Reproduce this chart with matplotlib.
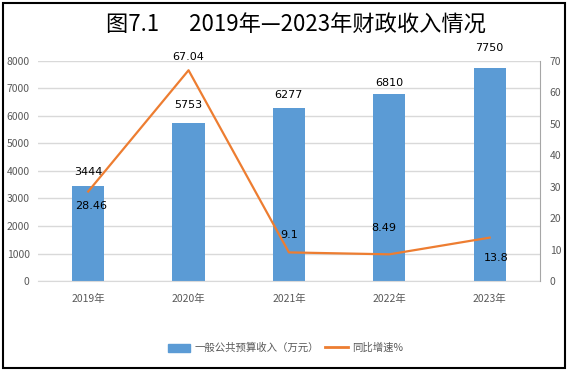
import matplotlib
matplotlib.use('Agg')
import matplotlib.pyplot as plt
from matplotlib.patches import Rectangle
from matplotlib.lines import Line2D
from matplotlib.patches import Patch

plt.rcParams['font.family'] = ['Noto Sans CJK SC', 'DejaVu Sans']

# --- data ---
years = ['2019年', '2020年', '2021年', '2022年', '2023年']
revenue = [3444, 5753, 6277, 6810, 7750]
growth = [28.46, 67.04, 9.1, 8.49, 13.8]
growth_labels = ['28.46', '67.04', '9.1', '8.49', '13.8']

left_ticks = [0, 1000, 2000, 3000, 4000, 5000, 6000, 7000, 8000]
right_ticks = [0, 10, 20, 30, 40, 50, 60, 70]

# label offsets in points (dx, dy)
bar_off = [(0, 7), (0, 9), (0, 6), (0, 4), (0, 11)]
line_off = [(2, -7), (0, 6), (0, 9), (-4, 15), (5, -11)]

BLUE = '#5b9bd5'
ORANGE = '#ed7d31'
GRID = '#d9d9d9'
TICK = '#595959'

fig = plt.figure(figsize=(5.71, 3.73), dpi=100)
fig.patch.set_facecolor('white')
ax = fig.add_axes([0.0665, 0.2466, 0.879, 0.59])
ax2 = ax.twinx()

x = range(len(years))
ax.bar(x, revenue, width=0.32, color=BLUE, zorder=2)
ax.set_xlim(-0.5, 4.5)
ax.set_ylim(0, 8000)
ax.set_yticks(left_ticks)
ax.set_xticks(list(x))
ax.set_xticklabels(years, fontsize=7.5, color=TICK)
ax.tick_params(axis='x', length=0, pad=9)
ax.tick_params(axis='y', length=0, labelsize=7.5, labelcolor=TICK, pad=6)
ax.grid(axis='y', color=GRID, linewidth=1, zorder=0)
ax.set_axisbelow(True)
for s in ('top', 'left', 'right'):
    ax.spines[s].set_visible(False)
ax.spines['bottom'].set_color(GRID)

for i, v in enumerate(revenue):
    ax.annotate(str(v), (i, v), xytext=bar_off[i], textcoords='offset points',
                ha='center', va='bottom', fontsize=8, color='black',
                family='DejaVu Sans')

ax2.plot(list(x), growth, color=ORANGE, linewidth=1.6, zorder=3)
ax2.set_ylim(0, 70)
ax2.set_yticks(right_ticks)
ax2.tick_params(axis='y', length=0, labelsize=7.5, labelcolor=TICK, pad=7)
for s in ('top', 'left', 'bottom'):
    ax2.spines[s].set_visible(False)
ax2.spines['right'].set_color('#a6a6a6')

for i, v in enumerate(growth):
    ax2.annotate(growth_labels[i], (i, v), xytext=line_off[i],
                 textcoords='offset points', ha='center',
                 va='bottom' if line_off[i][1] > 0 else 'top',
                 fontsize=8, color='black', family='DejaVu Sans')

fig.text(0.518, 0.933, '图7.1      2019年—2023年财政收入情况', ha='center',
         va='center', fontsize=16, weight='medium', color='black')

handles = [Patch(facecolor=BLUE, edgecolor=BLUE),
           Line2D([0], [0], color=ORANGE, linewidth=2)]
fig.legend(handles, ['一般公共预算收入（万元）', '同比增速%'],
           loc='center', bbox_to_anchor=(0.5, 0.067), ncol=2, frameon=False,
           fontsize=7.5, labelcolor=TICK, handlelength=2.2, handleheight=0.8,
           columnspacing=0.6, handletextpad=0.4)

fig.add_artist(Rectangle((0.005, 0.013), 0.985, 0.98, transform=fig.transFigure,
                         fill=False, edgecolor='black', linewidth=1.5))

fig.savefig('out.png', dpi=100)
